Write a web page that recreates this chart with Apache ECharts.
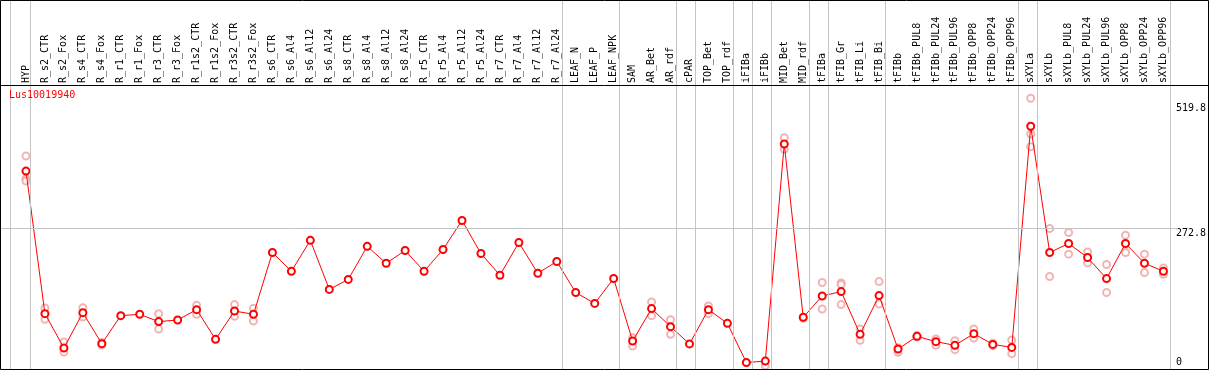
<!DOCTYPE html>
<html>
<head>
<meta charset="utf-8">
<script src="https://cdn.jsdelivr.net/npm/echarts@6/dist/echarts.min.js"></script>
<style>
html, body { margin: 0; padding: 0; background: #fff; }
#chart { width: 1209px; height: 370px; }
</style>
</head>
<body>
<div id="chart"></div>
<script>
var geneName = 'Lus10019940';
var categories = ['HYP', 'R_s2_CTR', 'R_s2_Fox', 'R_s4_CTR', 'R_s4_Fox', 'R_r1_CTR', 'R_r1_Fox',
    'R_r3_CTR', 'R_r3_Fox', 'R_r1s2_CTR', 'R_r1s2_Fox', 'R_r3s2_CTR', 'R_r3s2_Fox',
    'R_s6_CTR', 'R_s6_Al4', 'R_s6_Al12', 'R_s6_Al24', 'R_s8_CTR', 'R_s8_Al4', 'R_s8_Al12', 'R_s8_Al24',
    'R_r5_CTR', 'R_r5_Al4', 'R_r5_Al12', 'R_r5_Al24', 'R_r7_CTR', 'R_r7_Al4', 'R_r7_Al12', 'R_r7_Al24',
    'LEAF_N', 'LEAF_P', 'LEAF_NPK', 'SAM', 'AR_Bet', 'AR_rdf', 'cPAR', 'TOP_Bet', 'TOP_rdf',
    'iFIBa', 'iFIBb', 'MID_Bet', 'MID_rdf', 'tFIBa', 'tFIB_Gr', 'tFIB_Li', 'tFIB_Bi', 'tFIBb',
    'tFIBb_PUL8', 'tFIBb_PUL24', 'tFIBb_PUL96', 'tFIBb_OPP8', 'tFIBb_OPP24', 'tFIBb_OPP96',
    'sXYLa', 'sXYLb', 'sXYLb_PUL8', 'sXYLb_PUL24', 'sXYLb_PUL96', 'sXYLb_OPP8', 'sXYLb_OPP24', 'sXYLb_OPP96'];

// mean expression per sample
var means = [385.8, 105.2, 37.5, 107.2, 46.1, 101.3, 103.9, 89.5, 92.7, 113.1, 54.6, 110.4, 103.9,
    225.5, 188.6, 249.5, 152.9, 172.6, 237.6, 204.4, 229.4,
    188.6, 231.4, 288.6, 223.5, 180.8, 245.2, 184.7, 207.8,
    146.7, 125.3, 174.3, 51.3, 115.1, 79.6, 45.7, 113.1, 86.1,
    9.0, 11.8, 439.0, 98.0, 140.0, 148.6, 64.5, 140.7, 35.5,
    60.5, 50.1, 42.8, 65.8, 44.7, 38.8,
    473.9, 225.5, 243.2, 215.6, 174.2, 243.2, 204.4, 188.6];

// replicates (null = hidden behind the mean)
var repA = [415.3, 116.3, 49.3, 117.0, 48.5, null, null, 105.2, null, 121.6, null, 123.0, 115.7,
    null, null, null, null, null, null, null, null,
    null, null, null, null, null, null, null, null,
    null, null, null, 58.0, 128.1, 93.4, null, 120.2, null,
    null, 2.8, 451.4, 96.0, 166.4, 165.6, 75.0, 168.3, 29.0,
    62.0, 55.2, 52.0, 75.0, 47.0, 53.2,
    529.1, 272.8, 264.9, 226.7, 201.9, 259.6, 222.2, 195.2];
var repB = [370.6, 94.0, 29.6, 98.6, 43.5, null, null, 75.0, null, 103.9, null, 99.9, 90.7,
    null, null, null, null, null, null, null, null,
    null, null, null, null, null, null, null, null,
    null, null, null, 41.4, 101.3, 64.5, null, 105.2, null,
    null, null, 428.5, null, 114.3, 162.4, 52.6, 124.2, 38.0,
    59.0, 42.8, 34.3, 57.2, 42.0, 26.4,
    458.7, 178.2, 222.2, 205.0, 146.7, 225.5, 186.0, 182.7];
var repC = [366.0, null, null, null, null, null, null, null, null, null, null, null, null,
    null, null, null, null, null, null, null, null,
    null, null, null, null, null, null, null, null,
    null, null, null, null, null, null, null, null, null,
    null, null, null, null, null, 123.0, null, null, null,
    null, null, null, null, null, null,
    433.7, null, null, null, null, null, null, null];

var yTickValues = [0, 272.8, 519.8];
var gridLineValue = 272.8;
// a grey separator is drawn right after each of these samples
var groupEnds = ['HYP', 'R_r7_Al24', 'LEAF_NPK', 'AR_rdf', 'cPAR', 'TOP_rdf', 'iFIBa', 'iFIBb',
    'MID_rdf', 'tFIBa', 'tFIB_Bi', 'tFIBb_OPP96', 'sXYLa', 'sXYLb_OPP96'];

var W = 1209, H = 370;
var left0 = 16.5, right0 = 33.5, top0 = 86, bottom0 = 2.9, yMax = 553.2;
var cw = (W - left0 - right0) / categories.length;
var ppu = (H - top0 - bottom0) / yMax;
var font = "'DejaVu Sans Mono', monospace";

// overlay grid covering the whole picture, same scales as the plot
var ovXMin = -left0 / cw - 0.5, ovXMax = (W - left0) / cw - 0.5;
var ovYMin = -bottom0 / ppu, ovYMax = yMax + top0 / ppu;
function pxToX(px) { return (px - left0) / cw - 0.5; }

var sepLines = [{ xAxis: pxToX(10.5) }];
groupEnds.forEach(function (name) {
    sepLines.push({ xAxis: categories.indexOf(name) + 4.5 / cw });
});
sepLines.push([{ coord: [pxToX(0), gridLineValue] }, { coord: [pxToX(1178), gridLineValue] }]);

var repData = [];
for (var i = 0; i < categories.length; i++) {
    [repA, repB, repC].forEach(function (arr) {
        if (arr[i] != null) repData.push([categories[i], arr[i]]);
    });
}

var chart = echarts.init(document.getElementById('chart'), null, { renderer: 'canvas' });
var option = {
    animation: false,
    backgroundColor: '#fff',
    title: {
        text: geneName, left: 9, top: 90, padding: 0,
        textStyle: { color: '#ff0000', fontSize: 10, fontWeight: 'normal', fontFamily: font }
    },
    grid: [
        { left: left0, right: right0, top: top0, bottom: bottom0 },
        { left: 0, right: 0, top: 0, bottom: 0 }
    ],
    xAxis: [
        {
            type: 'category', gridIndex: 0, data: categories, position: 'top', boundaryGap: true,
            axisLine: { show: false }, axisTick: { show: false },
            axisLabel: { rotate: 90, interval: 0, margin: 3, fontSize: 10, fontFamily: font, color: '#000' }
        },
        { type: 'value', gridIndex: 1, min: ovXMin, max: ovXMax, show: false }
    ],
    yAxis: [
        {
            type: 'value', gridIndex: 0, position: 'right', min: 0, max: yMax,
            axisLine: { show: false }, axisTick: { show: false }, splitLine: { show: false },
            axisLabel: {
                customValues: yTickValues, margin: 3, fontSize: 10, fontFamily: font, color: '#000',
                verticalAlign: 'top', verticalAlignMinLabel: 'bottom',
                formatter: function (v) { return String(v); }
            }
        },
        { type: 'value', gridIndex: 1, min: ovYMin, max: ovYMax, show: false }
    ],
    series: [
        {
            type: 'line', xAxisIndex: 1, yAxisIndex: 1, data: [], silent: true,
            markLine: {
                silent: true, symbol: 'none', label: { show: false },
                lineStyle: { color: '#c4c4c4', width: 1, type: 'solid' },
                data: sepLines
            }
        },
        {
            type: 'scatter', xAxisIndex: 0, yAxisIndex: 0, data: repData, z: 3,
            symbol: 'emptyCircle', symbolSize: 7,
            itemStyle: { color: '#f0a0a0', borderColor: '#f0a0a0', borderWidth: 1.5 }
        },
        {
            type: 'line', xAxisIndex: 0, yAxisIndex: 0, data: means, z: 4, clip: false,
            symbol: 'emptyCircle', symbolSize: 7,
            lineStyle: { color: '#ff0000', width: 1 },
            itemStyle: { color: '#ff0000', borderColor: '#ff0000', borderWidth: 1.6 }
        }
    ],
    graphic: [
        { type: 'line', shape: { x1: 0, y1: 85.5, x2: W, y2: 85.5 }, style: { stroke: '#000', lineWidth: 1 }, z: 10 },
        { type: 'rect', shape: { x: 0.5, y: 0.5, width: W - 1, height: H - 1 }, style: { fill: null, stroke: '#000', lineWidth: 1 }, z: 10 }
    ]
};
chart.setOption(option);
</script>
</body>
</html>
